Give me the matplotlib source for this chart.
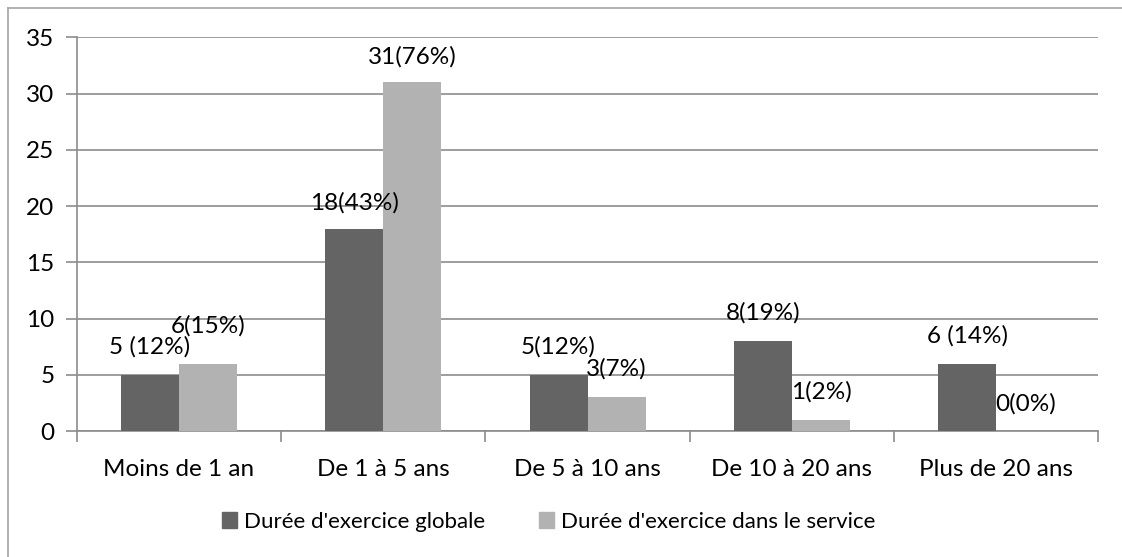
import matplotlib

matplotlib.use("Agg")
import matplotlib.pyplot as plt
import numpy as np
from matplotlib.lines import Line2D
from matplotlib.patches import Patch

plt.rcParams["font.family"] = ["Lato", "DejaVu Sans"]

categories = ["Moins de 1 an", "De 1 à 5 ans", "De 5 à 10 ans", "De 10 à 20 ans", "Plus de 20 ans"]
global_counts = [5, 18, 5, 8, 6]
global_labels = ["5 (12%)", "18(43%)", "5(12%)", "8(19%)", "6 (14%)"]
service_counts = [6, 31, 3, 1, 0]
service_labels = ["6(15%)", "31(76%)", "3(7%)", "1(2%)", "0(0%)"]
series_names = ["Durée d'exercice globale", "Durée d'exercice dans le service"]

# label lift above each bar (hand-placed in the original)
global_lift = [2.45, 2.3, 2.45, 2.5, 2.45]
service_lift = [3.35, 2.3, 2.5, 2.45, 2.4]

dark = "#646464"
light = "#b2b2b2"
grid = "#8c8c8c"
fs = 17.5

fig = plt.figure(figsize=(11.22, 5.57), dpi=100)
ax = fig.add_axes([0.0684, 0.2262, 0.9106, 0.7068])

x = np.arange(len(categories))
w = 0.284
ax.bar(x - w / 2, global_counts, w, color=dark, zorder=3)
ax.bar(x + w / 2, service_counts, w, color=light, zorder=3)

for i in range(len(categories)):
    ax.text(x[i] - w / 2, global_counts[i] + global_lift[i], global_labels[i],
            ha="center", va="center", fontsize=fs, zorder=4)
    ax.text(x[i] + w / 2, service_counts[i] + service_lift[i], service_labels[i],
            ha="center", va="center", fontsize=fs, zorder=4)

ax.set_xlim(-0.5, len(categories) - 0.5)
ax.set_ylim(0, 35)
ax.set_yticks(range(0, 36, 5))
ax.yaxis.grid(True, color=grid, linewidth=1.2, zorder=0)
ax.tick_params(axis="y", length=8, width=1.2, color=grid, labelsize=fs, pad=8)

ax.set_xticks(x)
ax.set_xticklabels(categories, fontsize=fs)
ax.set_xticks(np.arange(-0.5, len(categories)), minor=True)
ax.tick_params(axis="x", which="major", length=0, pad=20)
ax.tick_params(axis="x", which="minor", length=8, width=1.2, color=grid)

for side in ["top", "right"]:
    ax.spines[side].set_visible(False)
for side in ["left", "bottom"]:
    ax.spines[side].set_color(grid)
    ax.spines[side].set_linewidth(1.2)

handles = [Patch(color=dark), Patch(color=light)]
fig.legend(handles, series_names, loc="center", bbox_to_anchor=(0.489, 0.063),
           ncol=2, frameon=False, fontsize=16, handlelength=0.68, handleheight=0.68,
           handletextpad=0.3, columnspacing=2.45)

# chart-area border (only left and top edges fall inside the image)
bx = 7.5 / 1122
by = 1 - 7.5 / 557
fig.add_artist(Line2D([bx, bx], [0, by], color="#a6a6a6", linewidth=1.2))
fig.add_artist(Line2D([bx, 1], [by, by], color="#a6a6a6", linewidth=1.2))

fig.savefig("out.png", dpi=100)
plt.close(fig)
